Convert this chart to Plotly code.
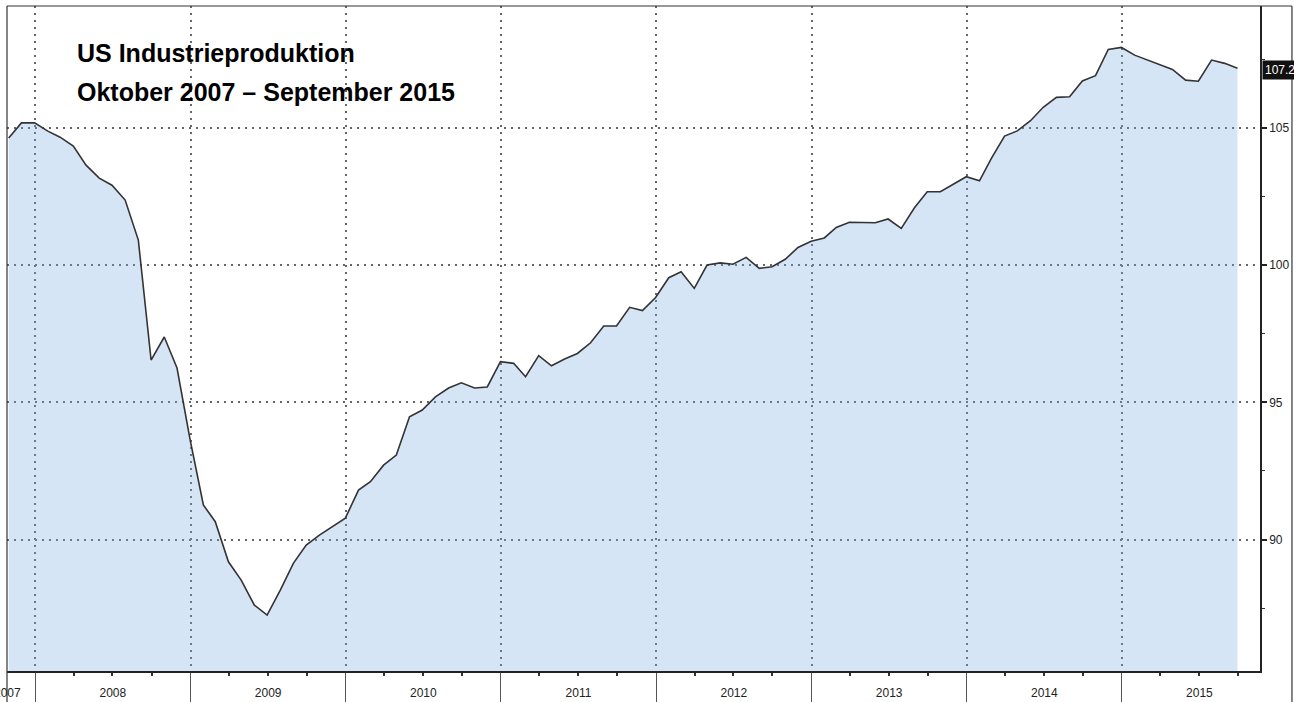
import pandas as pd
import plotly.graph_objects as go

# ---- data: US industrial production index, monthly, Oct 2007 - Sep 2015 ----
start_month = "2007-10"
n_months = 96
production = [
    104.63, 105.18, 105.18, 104.88, 104.66, 104.34, 103.64, 103.17, 102.91, 102.37,
    100.91, 96.54, 97.38, 96.25, 93.62, 91.26, 90.65, 89.19, 88.52, 87.61,
    87.25, 88.16, 89.14, 89.80, 90.16, 90.47, 90.78, 91.80, 92.11, 92.71,
    93.08, 94.47, 94.72, 95.20, 95.52, 95.71, 95.52, 95.56, 96.48, 96.42,
    95.93, 96.70, 96.33, 96.58, 96.78, 97.17, 97.78, 97.78, 98.46, 98.34,
    98.82, 99.54, 99.76, 99.15, 100.00, 100.08, 100.03, 100.28, 99.88, 99.94,
    100.21, 100.64, 100.87, 100.99, 101.37, 101.56, 101.56, 101.54, 101.68, 101.34,
    102.09, 102.67, 102.67, 102.95, 103.22, 103.07, 103.89, 104.70, 104.89, 105.26,
    105.75, 106.11, 106.13, 106.71, 106.90, 107.86, 107.93, 107.65, 107.49, 107.31,
    107.13, 106.74, 106.70, 107.47, 107.35, 107.17,
]
y_ticks = [90, 95, 100, 105]
last_label = "107.2"
title_line1 = "US Industrieproduktion"
title_line2 = "Oktober 2007 \u2013 September 2015"

dates = pd.date_range(start=start_month, periods=n_months, freq="ME")

fig = go.Figure()
fig.add_trace(go.Scatter(
    x=dates, y=production, mode="lines",
    line=dict(color="#333333", width=1.6),
    fill="tozeroy", fillcolor="rgba(120,170,225,0.30)",
    hoverinfo="x+y", showlegend=False,
))

grid_kw = dict(showgrid=True, gridcolor="#666666", gridwidth=1.6, griddash="2px,5px")
tick_font = dict(family="Liberation Sans, Arial, sans-serif", size=12, color="#222222")

fig.update_layout(
    width=1294, height=702,
    margin=dict(l=7, r=34, t=6, b=31, autoexpand=False),
    paper_bgcolor="white", plot_bgcolor="white",
    font=dict(family="Liberation Sans, Arial, sans-serif", size=12, color="#222222"),
    xaxis=dict(
        type="date", range=["2007-10-27", "2015-11-22"], automargin=False,
        dtick="M12", tick0="2008-01-01", tickformat="%Y", ticklabelmode="period",
        ticks="outside", ticklen=31, tickcolor="#555555", tickwidth=1,
        ticklabelstandoff=-21,
        showline=True, linecolor="#222222", linewidth=1.6,
        minor=dict(dtick="M3", ticks="outside", ticklen=3, tickcolor="#333333",
                   tickwidth=1.5, showgrid=False),
        tickfont=tick_font,
        zeroline=False, **grid_kw,
    ),
    yaxis=dict(
        side="right", range=[85.21, 109.44], automargin=False,
        tickvals=y_ticks, ticks="outside", ticklen=5, tickwidth=2, tickcolor="#222222",
        showline=True, linecolor="#222222", linewidth=1.6,
        minor=dict(dtick=2.5, tick0=0, ticks="outside", ticklen=3, tickcolor="#333333",
                   tickwidth=1, showgrid=False),
        tickfont=tick_font,
        zeroline=False, **grid_kw,
    ),
)

# outer frame (top, left, right)
fig.add_shape(type="line", xref="paper", yref="paper", x0=0, x1=1.0255, y0=1, y1=1,
              line=dict(color="#333333", width=1.2))
fig.add_shape(type="line", xref="paper", yref="paper", x0=0, x1=0, y0=1, y1=-0.06,
              line=dict(color="#333333", width=1.2))
fig.add_shape(type="line", xref="paper", yref="paper", x0=1.0255, x1=1.0255, y0=1, y1=-0.06,
              line=dict(color="#333333", width=1.2))

# partially visible 2007 label at left edge
fig.add_annotation(xref="paper", yref="paper", x=0, y=-0.033, text="2007",
                   showarrow=False, xanchor="center", yanchor="middle",
                   font=tick_font)

# last value marker
fig.add_annotation(xref="paper", yref="y", x=1, xshift=2, y=production[-1], yshift=-2,
                   text=last_label, showarrow=False, xanchor="left", yanchor="middle",
                   bgcolor="#111111", font=dict(family="Liberation Sans, Arial, sans-serif",
                                                size=12, color="white"), borderpad=2)

# title
title_font = dict(family="Liberation Sans, Arial, sans-serif",
                  size=25, color="black", weight="bold")
fig.add_annotation(xref="paper", yref="paper", x=(75 - 7) / 1253, y=(671 - 53.5) / 665,
                   text=title_line1, showarrow=False, xanchor="left", yanchor="middle",
                   font=title_font)
fig.add_annotation(xref="paper", yref="paper", x=(75 - 7) / 1253, y=(671 - 92) / 665,
                   text=title_line2, showarrow=False, xanchor="left", yanchor="middle",
                   font=title_font)

fig.write_html("out.html", config={"displayModeBar": False},
               post_script="document.body.style.margin='0';")
